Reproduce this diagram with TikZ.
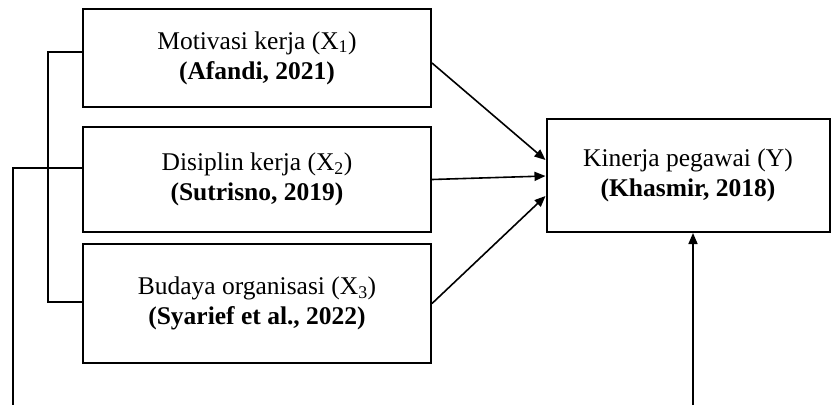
\documentclass[tikz,border=0pt]{standalone}
\usepackage{fontspec}
\setmainfont{Liberation Serif}
\usetikzlibrary{arrows.meta,calc}
\begin{document}
\begin{tikzpicture}[x=1pt,y=-1pt,
  box/.style={draw,line width=2pt,align=center,inner sep=0pt,
    font=\fontsize{25.5}{30}\selectfont},
  conn/.style={line width=1.6pt},
  arr/.style={line width=1.6pt,-{Triangle[length=11pt,width=9pt]}}]
\useasboundingbox (0,0) rectangle (831,405);
\node[box,minimum width=348pt,minimum height=98pt] (b1) at (257,58)
  {Motivasi kerja (X\textsubscript{1})\\\textbf{(Afandi, 2021)}};
\node[box,minimum width=348pt,minimum height=105pt] (b2) at (257,179.5)
  {Disiplin kerja (X\textsubscript{2})\\\textbf{(Sutrisno, 2019)}};
\node[box,minimum width=348pt,minimum height=119pt] (b3) at (257,303.5)
  {Budaya organisasi (X\textsubscript{3})\\\textbf{(Syarief et al., 2022)}};
\node[box,minimum width=283pt,minimum height=113pt] (by) at (688,175.5)
  {Kinerja pegawai (Y)\\\textbf{(Khasmir, 2018)}};
\coordinate (t1) at (48,52);
\coordinate (t3) at (48,302);
\coordinate (t2) at (13,168);
\coordinate (e2) at (13,405);
\coordinate (e4) at (693,405);
\draw[conn] (b1.west |- t1) -- (t1) -- (t3) -- (b3.west |- t3);
\draw[conn] (b2.west |- t2) -- (t2) -- (e2);
\draw[arr] (e4) -- (by.south -| e4);
\draw[arr] ($(b1.east)+(0,5)$) -- ($(by.west)+(0,-15.5)$);
\draw[arr] (b2.east) -- ($(by.west)+(0,0.5)$);
\draw[arr] (b3.east) -- ($(by.west)+(0,20.5)$);
\end{tikzpicture}
\end{document}
